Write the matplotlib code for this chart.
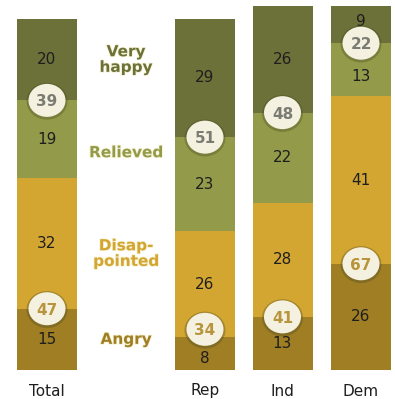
import numpy as np
import matplotlib
matplotlib.use('Agg')
import matplotlib.pyplot as plt
from matplotlib.patches import Ellipse
import matplotlib.patheffects as pe

# data, stacked bottom -> top
groups = ['Total', 'Rep', 'Ind', 'Dem']
angry = [15, 8, 13, 26]
disappointed = [32, 26, 28, 41]
relieved = [19, 23, 22, 13]
very_happy = [20, 29, 26, 9]
net_unhappy = [47, 34, 41, 67]
net_happy = [39, 51, 48, 22]

cat_names = ['Angry', 'Disap-\npointed', 'Relieved', 'Very\nhappy']
colors = ['#a07e24', '#d3a632', '#939b4a', '#6b7138']
net_colors = ['#b8953c', '#7a7c72']

out_file = 'out.png'

# layout (in pixel-like x units, percent y units)
xpos = [47, 205, 282.5, 361]
bar_w = 60
scale = 4.085          # pixels per percentage point
base_px = 370          # bottom of bars, from top of image

fig = plt.figure(figsize=(3.95, 3.99), dpi=100)
ax = fig.add_axes([0, 0, 1, 1])
ax.set_xlim(0, 395)
ax.set_ylim(-(399 - base_px) / scale, base_px / scale)
ax.axis('off')

series = [angry, disappointed, relieved, very_happy]
bottoms = np.zeros(len(groups))
seg_mid = []
for vals, col in zip(series, colors):
    vals = np.array(vals, dtype=float)
    ax.bar(xpos, vals, width=bar_w, bottom=bottoms, color=col,
           edgecolor='none', zorder=1)
    seg_mid.append(bottoms + vals / 2.0)
    bottoms = bottoms + vals

# small nudges (pixels, downward) where the bubble covers the middle
nudge = {(0, 1): 5, (2, 3): 7, (3, 3): -3}
for si, vals in enumerate(series):
    for gi, v in enumerate(vals):
        y = seg_mid[si][gi] - nudge.get((si, gi), 0) / scale
        ax.text(xpos[gi], y, str(v), ha='center', va='center',
                fontsize=11, color='#1e1e1e', zorder=3)

# net bubbles: unhappy at angry/disappointed border, happy at relieved/very happy border
unhappy_y = np.array(angry, dtype=float)
happy_y = np.array(angry) + np.array(disappointed) + np.array(relieved)
bubble_up = {(0, 1): 8}   # pixels, Rep bubble lifted to clear the "8"
for k, (ys, nets, tc) in enumerate([(unhappy_y, net_unhappy, net_colors[0]),
                                    (happy_y, net_happy, net_colors[1])]):
    for gi in range(len(groups)):
        yc = ys[gi] + bubble_up.get((k, gi), 0) / scale
        sh = Ellipse((xpos[gi], yc - 0.2), 41, 37 / scale,
                     facecolor='#4a4a20', alpha=0.35, edgecolor='none', zorder=3)
        ax.add_patch(sh)
        el = Ellipse((xpos[gi], yc), 37, 33 / scale,
                     facecolor='#f5f1e1', edgecolor='none', zorder=4)
        ax.add_patch(el)
        ax.text(xpos[gi], yc - 1.5 / scale, str(nets[gi]), ha='center', va='center',
                fontsize=11, fontweight='bold', color=tc, zorder=5)

# category labels between Total and Rep
lab_x = 126
lab_off = [0, 2.5, 3.3, 0]
for si, name in enumerate(cat_names):
    y = seg_mid[si][0] - lab_off[si]
    ax.text(lab_x, y, name, ha='center', va='center', fontsize=11,
            fontweight='bold', color=colors[si], linespacing=1.05, zorder=3,
            path_effects=[pe.withStroke(linewidth=1.2, foreground='#f6f2d4')])

# group labels under the bars
for gi, g in enumerate(groups):
    ax.text(xpos[gi], -21 / scale, g, ha='center', va='center',
            fontsize=11, color='#1e1e1e')

fig.savefig(out_file, dpi=100)
